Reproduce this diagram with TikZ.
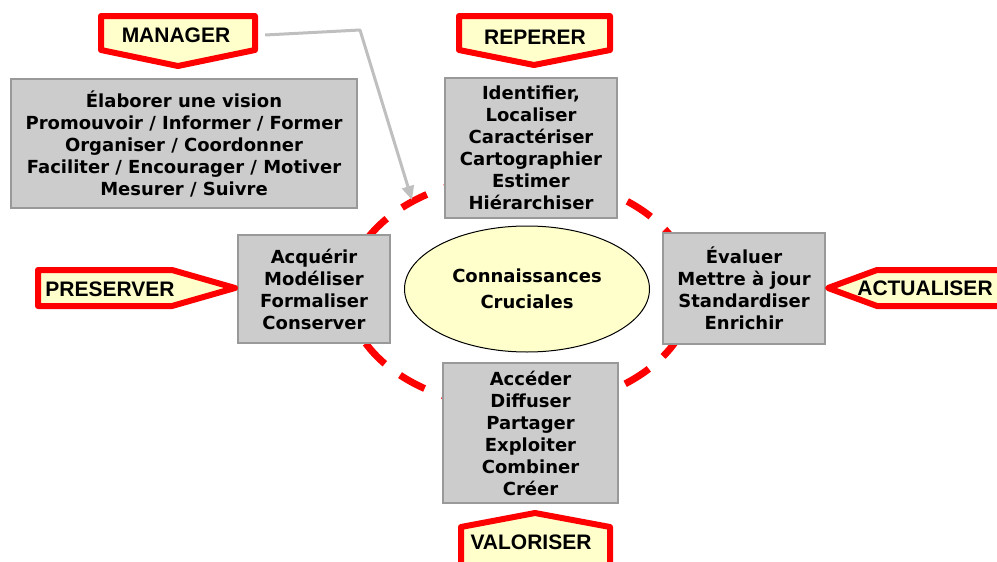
\documentclass[tikz,border=0pt]{standalone}
\usepackage{fontspec}
\usepackage{tikz}
\usetikzlibrary{arrows.meta,shapes.geometric}
\newfontfamily\boxfont{DejaVu Sans}
\newfontfamily\tagfont{Liberation Sans}
\definecolor{tagyellow}{HTML}{FFFFCC}
\definecolor{boxgray}{HTML}{CCCCCC}
\definecolor{boxline}{HTML}{999999}
\definecolor{linkgray}{HTML}{BFBFBF}
\tikzset{
  actbox/.style={fill=boxgray, draw=boxline, line width=2pt, align=center, inner sep=0pt,
    font=\boxfont\bfseries\fontsize{18}{22}\selectfont},
  tagshape/.style={fill=tagyellow, draw=red, line width=6pt, line join=round},
  tagtext/.style={font=\tagfont\bfseries\fontsize{21}{25}\selectfont}
}

\begin{document}
\begin{tikzpicture}[x=1pt,y=-1pt]
    \clip (0,0) rectangle (997,562);
    % dashed ring
    \draw[red, line width=7pt, dash pattern=on 28pt off 19pt, dash phase=5pt] (520,292) ellipse [x radius=172pt, y radius=116pt];

    \node[actbox, minimum width=346pt, minimum height=129pt] (vision) at (184,143.5)
      {Élaborer une vision\\Promouvoir / Informer / Former\\Organiser / Coordonner\\Faciliter / Encourager / Motiver\\Mesurer / Suivre};
    \node[actbox, minimum width=172pt, minimum height=140pt] (rep) at (531,148)
      {Identifier,\\Localiser\\Caractériser\\Cartographier\\Estimer\\Hiérarchiser};
    \node[actbox, minimum width=152pt, minimum height=108pt] (pres) at (314,289)
      {Acquérir\\Modéliser\\Formaliser\\Conserver};
    \node[actbox, minimum width=162pt, minimum height=111pt] (act) at (744,288.5)
      {Évaluer\\Mettre à jour\\Standardiser\\Enrichir};
    \node[actbox, minimum width=175pt, minimum height=140pt] (val) at (530.5,433)
      {Accéder\\Diffuser\\Partager\\Exploiter\\Combiner\\Créer};

    \node[ellipse, draw, fill=tagyellow, line width=1pt, minimum width=245pt, minimum height=126pt,
      align=center, font=\boxfont\bfseries\fontsize{18}{26}\selectfont] (core) at (527,289)
      {Connaissances\\Cruciales};

    % tags
    \draw[tagshape] (101,16)--(255,16)--(255,50)--(178,66)--(101,50)--cycle;
    \draw[tagshape] (459,16)--(610,16)--(610,50)--(534,65)--(459,50)--cycle;
    \draw[tagshape] (38,270)--(172,270)--(235,288)--(172,306)--(38,306)--cycle;
    \draw[tagshape] (1010,270)--(877,270)--(828,288)--(877,306)--(1010,306)--cycle;
    \draw[tagshape] (461,600)--(461,527)--(535,513)--(610,527)--(610,600)--cycle;
    \node[tagtext, minimum width=160pt] (mgr) at (176,35) {MANAGER};
    \node[tagtext] (reperer) at (535,37) {REPERER};
    \node[tagtext] (preserver) at (110,289) {PRESERVER};
    \node[tagtext] (actualiser) at (925,288) {ACTUALISER};
    \node[tagtext] (valoriser) at (531,542) {VALORISER};

    \coordinate (bend) at (360,30);
    \coordinate (ring) at (412,200);
    \draw[linkgray, line width=3pt, line join=round, -{Triangle[length=14pt,width=12pt]}]
      ([xshift=9pt]mgr.east) -- (bend) -- (ring);
\end{tikzpicture}
\end{document}
